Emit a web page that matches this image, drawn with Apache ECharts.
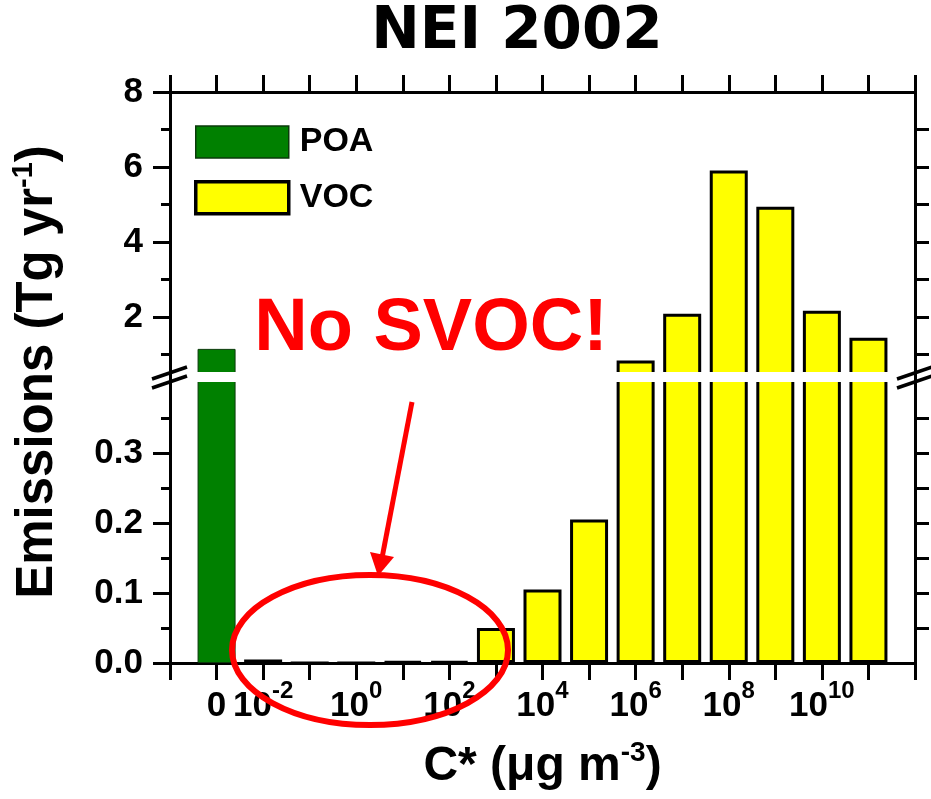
<!DOCTYPE html>
<html>
<head>
<meta charset="utf-8">
<title>NEI 2002</title>
<script src="https://cdn.jsdelivr.net/npm/echarts@6.0.0/dist/echarts.min.js"></script>
<style>
  html, body { margin: 0; padding: 0; background: #fff; }
  #chart { width: 931px; height: 799px; }
</style>
</head>
<body>
<div id="chart"></div>
<script>
// x positions: 0 = axis start, 1 = "0" (POA), 2..15 = C* of 10^-2 .. 10^11
const xTickLabels = ['', '0', '10^-2', '', '10^0', '', '10^2', '', '10^4', '', '10^6', '', '10^8', '', '10^10', '', ''];

const poaPositions = [1];
const poaValues = [1.15];

const vocPositions = [2, 3, 4, 5, 6, 7, 8, 9, 10, 11, 12, 13, 14, 15];
const vocValues = [0.005, 0, 0, 0.002, 0.002, 0.05, 0.105, 0.205, 0.84, 2.09, 5.91, 4.94, 2.17, 1.45];

const upperMajorTicks = [2, 4, 6, 8];
const upperMinorTicks = [1, 3, 5, 7];
const lowerMajorTicks = [0, 0.1, 0.2, 0.3];
const lowerMinorTicks = [0.05, 0.15, 0.25, 0.35];
const rightTicksUpper = [1, 2, 3, 4, 5, 6, 7];
const rightTicksLower = [0.05, 0.1, 0.15, 0.2, 0.25, 0.3, 0.35];

const FONT = 'Liberation Sans, Arial, Helvetica, sans-serif';

const chart = echarts.init(document.getElementById('chart'));

const toPairs = (xs, ys) => xs.map((x, i) => [x, ys[i]]);

const tickLabel = (value) => {
  const s = xTickLabels[value] || '';
  if (!s) return '';
  const parts = s.split('^');
  return parts.length > 1 ? '{b|' + parts[0] + '}{s|' + parts[1] + '}' : '{b|' + s + '}';
};

const xAxisBase = (gridIndex, position) => ({
  type: 'value',
  gridIndex,
  position,
  min: 0,
  max: 16,
  interval: 1,
  splitLine: { show: false },
  axisLine: { show: true, onZero: false, lineStyle: { color: '#000', width: 3 } },
  axisTick: { show: true, length: 17, lineStyle: { color: '#000', width: 3 } },
  axisLabel: { show: false },
});

const yAxisBase = (gridIndex, min, max, position, ticks, len, line) => ({
  type: 'value',
  gridIndex,
  min,
  max,
  position,
  offset: 0,
  splitLine: { show: false },
  axisLine: { show: line, onZero: false, lineStyle: { color: '#000', width: 3 } },
  axisTick: { show: true, length: len, customValues: ticks, lineStyle: { color: '#000', width: 3 } },
  axisLabel: { show: false },
});

const yLabel = (ticks, fmt) => ({
  show: true,
  customValues: ticks,
  margin: 27,
  color: '#000',
  fontSize: 35,
  fontWeight: 'bold',
  fontFamily: FONT,
  formatter: fmt,
});

const upperLeft = yAxisBase(0, 0.4, 8, 'left', upperMajorTicks, 17, true);
upperLeft.axisLabel = yLabel(upperMajorTicks, (v) => String(v));
const lowerLeft = yAxisBase(1, 0, 0.41, 'left', lowerMajorTicks, 17, true);
lowerLeft.axisLabel = yLabel(lowerMajorTicks, (v) => v.toFixed(1));

const lowerX = xAxisBase(1, 'bottom');
lowerX.axisLabel = {
  show: true,
  margin: 16,
  formatter: tickLabel,
  rich: {
    b: { fontSize: 35, fontWeight: 'bold', fontFamily: FONT, color: '#000', lineHeight: 54 },
    s: { fontSize: 24, fontWeight: 'bold', fontFamily: FONT, color: '#000', lineHeight: 20, verticalAlign: 'top' },
  },
};
lowerX.name = '{a|C* (\u03bcg m}{s|-3}{a|)}';
lowerX.nameLocation = 'middle';
lowerX.nameGap = 76;
lowerX.nameTextStyle = {
  rich: {
    a: { fontSize: 48, fontWeight: 'bold', fontFamily: FONT, color: '#000', lineHeight: 56 },
    s: { fontSize: 28, fontWeight: 'bold', fontFamily: FONT, color: '#000', lineHeight: 30, verticalAlign: 'top' },
  },
};

const barSeries = (name, xs, ys, xi, yi, style) => ({
  name,
  type: 'bar',
  xAxisIndex: xi,
  yAxisIndex: yi,
  data: toPairs(xs, ys),
  barWidth: 38,
  barGap: '-100%',
  clip: true,
  itemStyle: style,
  emphasis: { disabled: true },
});

const poaStyle = { color: '#008000', borderColor: '#0a3a0a', borderWidth: 1 };
const vocStyle = { color: '#ffff00', borderColor: '#000', borderWidth: 3 };

const red = '#ff0000';

const option = {
  backgroundColor: '#fff',
  animation: false,
  grid: [
    { left: 170, right: 16, top: 92, height: 285 },
    { left: 170, right: 16, top: 376, height: 287 },
  ],
  legend: {
    data: [
      { name: 'POA', itemStyle: { color: '#008000', borderColor: '#0a3a0a', borderWidth: 1.5 } },
      { name: 'VOC', itemStyle: { color: '#ffff00', borderColor: '#000', borderWidth: 3.5 } },
    ],
    orient: 'vertical',
    left: 194,
    top: 125,
    padding: 0,
    icon: 'rect',
    itemWidth: 93,
    itemHeight: 32,
    itemGap: 21,
    selectedMode: false,
    textStyle: { fontSize: 34, fontWeight: 'bold', fontFamily: FONT, color: '#000', padding: [0, 0, 0, 6] },
  },
  xAxis: [xAxisBase(0, 'top'), lowerX],
  yAxis: [
    upperLeft,
    yAxisBase(0, 0.4, 8, 'left', upperMinorTicks, 9, false),
    yAxisBase(0, 0.4, 8, 'right', rightTicksUpper, 14, true),
    lowerLeft,
    yAxisBase(1, 0, 0.41, 'left', lowerMinorTicks, 9, false),
    yAxisBase(1, 0, 0.41, 'right', rightTicksLower, 14, true),
  ],
  series: [
    barSeries('POA', poaPositions, poaValues, 0, 0, poaStyle),
    barSeries('VOC', vocPositions, vocValues, 0, 0, vocStyle),
    barSeries('POA', poaPositions, poaValues, 1, 3, poaStyle),
    barSeries('VOC', vocPositions, vocValues, 1, 3, vocStyle),
  ],
  graphic: [
    {
      type: 'text', z: 100, x: 517, y: 33,
      style: {
        text: 'NEI 2002', font: 'bold 58px "DejaVu Sans", sans-serif', fill: '#000',
        align: 'center', verticalAlign: 'middle', textAlign: 'center', textVerticalAlign: 'middle',
      },
    },
    {
      type: 'text', z: 100, x: 38, y: 372, rotation: Math.PI / 2,
      style: {
        text: '{a|Emissions (Tg yr}{s|-1}{a|)}',
        align: 'center', verticalAlign: 'middle', textAlign: 'center', textVerticalAlign: 'middle',
        rich: {
          a: { fontSize: 51, fontWeight: 'bold', fontFamily: FONT, fill: '#000', lineHeight: 58 },
          s: { fontSize: 29, fontWeight: 'bold', fontFamily: FONT, fill: '#000', lineHeight: 30, verticalAlign: 'top' },
        },
      },
    },
    // axis break band and marks
    { type: 'rect', z: 90, shape: { x: 172, y: 372, width: 741, height: 10 }, style: { fill: '#fff' } },
    { type: 'line', z: 95, shape: { x1: 152, y1: 379, x2: 187, y2: 367 }, style: { stroke: '#000', lineWidth: 3.5 } },
    { type: 'line', z: 95, shape: { x1: 152, y1: 388, x2: 187, y2: 376 }, style: { stroke: '#000', lineWidth: 3.5 } },
    { type: 'line', z: 95, shape: { x1: 897, y1: 379, x2: 932, y2: 367 }, style: { stroke: '#000', lineWidth: 3.5 } },
    { type: 'line', z: 95, shape: { x1: 897, y1: 388, x2: 932, y2: 376 }, style: { stroke: '#000', lineWidth: 3.5 } },
    // annotation
    {
      type: 'text', z: 100, x: 431, y: 330,
      style: {
        text: 'No SVOC!', font: 'bold 74px ' + FONT, fill: red,
        align: 'center', verticalAlign: 'middle', textAlign: 'center', textVerticalAlign: 'middle',
      },
    },
    { type: 'ellipse', z: 100, shape: { cx: 370, cy: 650, rx: 138, ry: 75 }, style: { fill: 'none', stroke: red, lineWidth: 6 } },
    { type: 'line', z: 100, shape: { x1: 412, y1: 402, x2: 382, y2: 558 }, style: { stroke: red, lineWidth: 5 } },
    { type: 'polygon', z: 100, shape: { points: [[378, 576], [370, 552], [394, 557]] }, style: { fill: red } },
  ],
};

chart.setOption(option);
</script>
</body>
</html>
